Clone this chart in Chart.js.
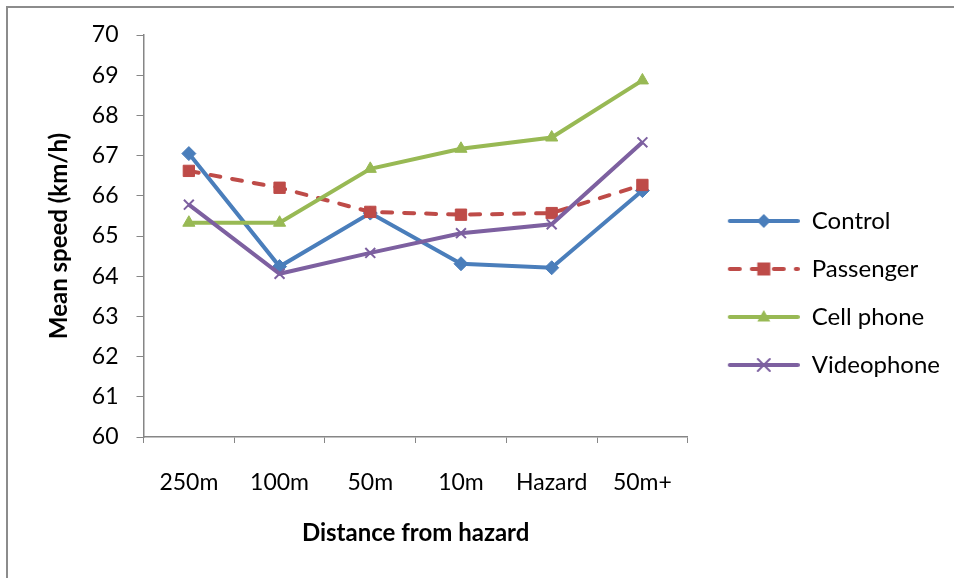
<!DOCTYPE html>
<html>
<head>
<meta charset="utf-8">
<script src="https://cdn.jsdelivr.net/npm/chart.js@4/dist/chart.umd.min.js"></script>
<style>
  html, body { margin: 0; padding: 0; background: #fff; }
  #wrap { width: 954px; height: 578px; }
</style>
</head>
<body>
<div id="wrap"><canvas id="chartLine" width="954" height="578"></canvas></div>
<script>
// categories and series
var categories = ['250m', '100m', '50m', '10m', 'Hazard', '50m+'];
var control    = [67.05, 64.24, 65.57, 64.31, 64.21, 66.13];
var passenger  = [66.62, 66.20, 65.60, 65.53, 65.57, 66.27];
var cellPhone  = [65.33, 65.33, 66.67, 67.17, 67.45, 68.87];
var videophone = [65.78, 64.06, 64.58, 65.07, 65.29, 67.33];
var yTicks = [60, 61, 62, 63, 64, 65, 66, 67, 68, 69, 70];

Chart.defaults.font.family = 'Lato, "DejaVu Sans", sans-serif';
Chart.defaults.color = '#000';

// draws line + marker into a small canvas used as legend icon
function makeIcon(ds) {
    var c = document.createElement('canvas');
    c.width = 88;
    c.height = 20;
    var g = c.getContext('2d');
    var dashed = ds.borderDash && ds.borderDash.length > 0;
    g.strokeStyle = ds.borderColor;
    g.lineWidth = 4;
    g.lineCap = 'round';
    g.setLineDash(dashed ? [10, 12] : []);
    g.beginPath();
    g.moveTo(18, 10);
    g.lineTo(86, 10);
    g.stroke();
    g.setLineDash([]);
    var cx = 52, cy = 10;
    g.fillStyle = ds.backgroundColor;
    g.strokeStyle = ds.borderColor;
    g.beginPath();
    if (ds.pointStyle === 'rectRot') {
        g.moveTo(cx, cy - 7); g.lineTo(cx + 7, cy); g.lineTo(cx, cy + 7); g.lineTo(cx - 7, cy);
        g.closePath(); g.fill();
    } else if (ds.pointStyle === 'rect') {
        g.rect(cx - 6.5, cy - 6.5, 13, 13); g.fill();
    } else if (ds.pointStyle === 'triangle') {
        g.moveTo(cx, cy - 7); g.lineTo(cx + 6.5, cy + 4.5); g.lineTo(cx - 6.5, cy + 4.5);
        g.closePath(); g.fill();
    } else {
        g.lineWidth = 2;
        g.moveTo(cx - 6, cy - 6); g.lineTo(cx + 6, cy + 6);
        g.moveTo(cx + 6, cy - 6); g.lineTo(cx - 6, cy + 6);
        g.stroke();
    }
    return c;
}

// grey frame round the chart (left and top edge only visible)
var framePlugin = {
    id: 'frame',
    beforeDraw: function (chart) {
        var ctx = chart.ctx;
        ctx.save();
        ctx.strokeStyle = '#8c8c8c';
        ctx.lineWidth = 2;
        ctx.beginPath();
        ctx.moveTo(7, 578);
        ctx.lineTo(7, 7);
        ctx.lineTo(954, 7);
        ctx.stroke();
        ctx.restore();
    }
};

function series(label, data, color, style, radius, order, dash) {
    return {
        label: label,
        data: data,
        borderColor: color,
        backgroundColor: color,
        borderWidth: 4,
        borderDash: dash ? [10, 12] : [],
        borderCapStyle: dash ? 'round' : 'butt',
        pointStyle: style,
        pointRadius: radius,
        pointBorderWidth: style === 'crossRot' ? 2 : 1,
        pointBackgroundColor: color,
        pointBorderColor: color,
        tension: 0,
        order: order
    };
}

var datasets = [
    series('Control', control, '#4A7EBB', 'rectRot', 7, 4, false),
    series('Passenger', passenger, '#BE4B48', 'rect', 8, 3, true),
    series('Cell phone', cellPhone, '#98B954', 'triangle', 7, 2, false),
    series('Videophone', videophone, '#7D60A0', 'crossRot', 7, 1, false)
];

var ctx = document.getElementById('chartLine').getContext('2d');
var myChart = new Chart(ctx, {
    type: 'line',
    data: { labels: categories, datasets: datasets },
    plugins: [framePlugin],
    options: {
        responsive: false,
        animation: false,
        layout: { padding: { left: 8, top: 35, right: 4, bottom: 27 } },
        plugins: {
            tooltip: { enabled: false },
            legend: {
                position: 'right',
                maxWidth: 400,
                labels: {
                    usePointStyle: true,
                    pointStyleWidth: 88,
                    padding: 24,
                    font: { size: 24 },
                    color: '#000',
                    generateLabels: function (chart) {
                        return chart.data.datasets.map(function (ds, i) {
                            return {
                                text: ds.label,
                                pointStyle: makeIcon(ds),
                                fillStyle: ds.borderColor,
                                strokeStyle: ds.borderColor,
                                lineWidth: 0,
                                fontColor: '#000',
                                datasetIndex: i
                            };
                        });
                    }
                }
            }
        },
        scales: {
            x: {
                offset: true,
                afterFit: function (scale) { scale.height = 114; },
                grid: { offset: true, drawOnChartArea: false, tickLength: 6, color: '#868686' },
                border: { color: '#868686', width: 1.5 },
                ticks: { font: { size: 23 }, padding: 26, color: '#000' },
                title: {
                    display: true,
                    text: 'Distance from hazard',
                    font: { size: 24, weight: 'bold' },
                    color: '#000',
                    padding: { top: 4, bottom: 3.6 }
                }
            },
            y: {
                min: yTicks[0],
                max: yTicks[yTicks.length - 1],
                afterFit: function (scale) { scale.width = 135.5; },
                afterBuildTicks: function (scale) {
                    scale.ticks = yTicks.map(function (v) { return { value: v }; });
                },
                grid: { drawOnChartArea: false, tickLength: 7, color: '#868686' },
                border: { color: '#868686', width: 1.5 },
                ticks: { font: { size: 23 }, padding: 18, color: '#000' },
                title: {
                    display: true,
                    text: 'Mean speed (km/h)',
                    font: { size: 24, weight: 'bold' },
                    color: '#000',
                    padding: { top: 36.6, bottom: 4 }
                }
            }
        }
    }
});
</script>
</body>
</html>
